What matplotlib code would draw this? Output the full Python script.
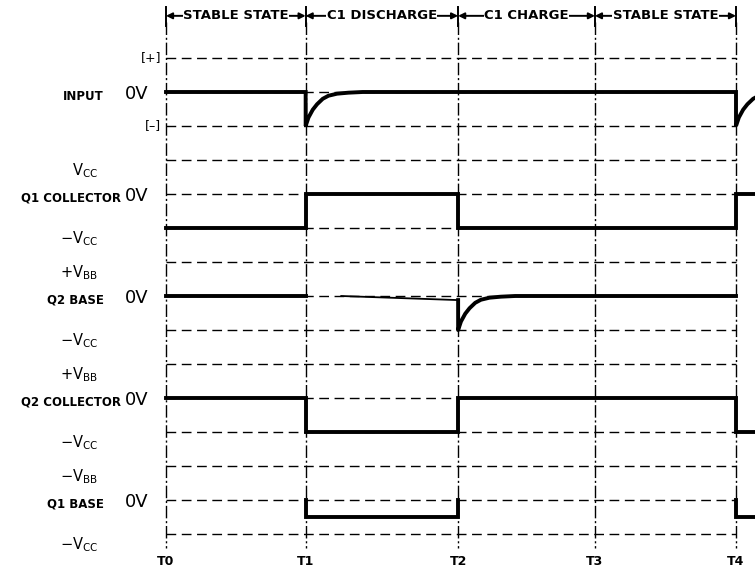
import numpy as np
import matplotlib
matplotlib.use("Agg")
import matplotlib.pyplot as plt

plt.rcParams['font.family'] = ['Liberation Sans Narrow', 'DejaVu Sans']

# time marks (T0..T4) and level rows (0 = top reference line)
t_marks = [0.0, 0.98, 2.05, 3.01, 4.0]
t_names = ['T0', 'T1', 'T2', 'T3', 'T4']
phases = ['STABLE STATE', 'C1 DISCHARGE', 'C1 CHARGE', 'STABLE STATE']

level_rows = list(range(15))
row_labels = ['[+]', '0V', '[\u2013]',
              r'$\mathregular{V_{CC}}$', '0V', r'$\mathregular{-V_{CC}}$', r'$\mathregular{+V_{BB}}$',
              '0V', r'$\mathregular{-V_{CC}}$', r'$\mathregular{+V_{BB}}$',
              '0V', r'$\mathregular{-V_{CC}}$', r'$\mathregular{-V_{BB}}$',
              '0V', r'$\mathregular{-V_{CC}}$']
signal_names = {1: 'INPUT', 4: 'Q1 COLLECTOR', 7: 'Q2 BASE', 10: 'Q2 COLLECTOR', 13: 'Q1 BASE'}

# spike shape: time after edge, fraction of the drop remaining
spike_dt = [0.0, 0.02, 0.05, 0.08, 0.12, 0.16, 0.22, 0.30, 0.40]
spike_fr = [1.0, 0.75, 0.52, 0.36, 0.2, 0.11, 0.05, 0.02, 0.0]

T0, T1, T2, T3, T4 = t_marks
t_end = 4.2

# square waveforms as (time, row)
q1_coll_t = [T0, T1, T1, T2, T2, T4, T4, t_end]
q1_coll_r = [5, 5, 4, 4, 5, 5, 4, 4]
q2_coll_t = [T0, T1, T1, T2, T2, T4, T4, t_end]
q2_coll_r = [10, 10, 11, 11, 10, 10, 11, 11]
q1_base_t = [T1, T1, T2, T2]
q1_base_r = [13, 13.5, 13.5, 13]
q1_base2_t = [T4, T4, t_end]
q1_base2_r = [13, 13.5, 13.5]
q2_base_drift_t = [T1 + 0.25, T2]
q2_base_drift_r = [7.0, 7.12]

# axes mapped so that the picture is 755 x 573 px
px_per_t = (736 - 166) / 4.0
row_px0, row_step = 58, 34
fig = plt.figure(figsize=(7.55, 5.73), dpi=100)
ax = fig.add_axes([0, 0, 1, 1])
ax.set_xlim(-166 / px_per_t, (755 - 166) / px_per_t)
ax.set_ylim((573 - row_px0) / row_step, -row_px0 / row_step)
ax.axis('off')

lw_sig = 2.8
dash_kw = dict(color='black', lw=1.0, dashes=(7, 4))

# horizontal reference lines
for r in level_rows:
    ax.plot([T0, T4], [r, r], **dash_kw, zorder=1)

# vertical time lines
for t, name in zip(t_marks, t_names):
    ax.plot([t, t], [-1.05, 14.4], color='black', lw=1.0, dashes=(9, 2, 1.5, 2), zorder=1)
    ax.plot([t, t], [-1.5, -0.95], color='black', lw=1.4, zorder=2)
    ax.text(t, 14.8, name, ha='center', va='center', fontsize=9, fontweight='bold')

# phase header with arrows
for i, name in enumerate(phases):
    a, b = t_marks[i], t_marks[i + 1]
    ax.annotate('', xy=(a, -1.24), xytext=(b, -1.24),
                arrowprops=dict(arrowstyle='<|-|>', color='black', lw=1.4,
                                mutation_scale=9, shrinkA=0, shrinkB=0))
    ax.text((a + b) / 2, -1.24, name, ha='center', va='center', fontsize=9.5,
            fontweight='bold', bbox=dict(facecolor='white', edgecolor='none', pad=0.3))

# input waveform with negative spikes at T1 and T4
sdt = np.array(spike_dt)
sfr = np.array(spike_fr)
in_t = np.concatenate([[T0, T1], T1 + sdt, [T4], T4 + sdt])
in_r = np.concatenate([[1, 1], 1 + sfr, [1], 1 + sfr])
ax.plot(in_t, in_r, color='black', lw=lw_sig, solid_joinstyle='miter', zorder=3)

# Q2 base: 0V, slow drift, spike at T2, back to 0V
ax.plot([T0, T1], [7, 7], color='black', lw=lw_sig, zorder=3)
ax.plot(q2_base_drift_t, q2_base_drift_r, color='black', lw=1.3, zorder=3)
qb_t = np.concatenate([[T2], T2 + sdt, [T4]])
qb_r = np.concatenate([[7.12], 7 + sfr, [7]])
ax.plot(qb_t, qb_r, color='black', lw=lw_sig, zorder=3)

for xs, ys in [(q1_coll_t, q1_coll_r), (q2_coll_t, q2_coll_r),
               (q1_base_t, q1_base_r), (q1_base2_t, q1_base2_r)]:
    ax.plot(xs, ys, color='black', lw=lw_sig, solid_joinstyle='miter', zorder=3)


def x_lab(px):
    return (px - 166) / px_per_t


# left labels
for r in level_rows:
    lab = row_labels[r]
    if lab == '0V':
        ax.text(x_lab(148), r + 0.05, lab, ha='right', va='center', fontsize=13)
        ax.text(x_lab(104 if r in (1, 7, 13) else 121), r + 0.12, signal_names[r],
                ha='right', va='center', fontsize=8.5, fontweight='bold')
    elif lab.startswith('['):
        ax.text(x_lab(161), r, lab, ha='right', va='center', fontsize=9)
    else:
        ax.text(x_lab(98), r + 0.3, lab, ha='right', va='center', fontsize=10.5)

fig.savefig('out.png', dpi=100)
